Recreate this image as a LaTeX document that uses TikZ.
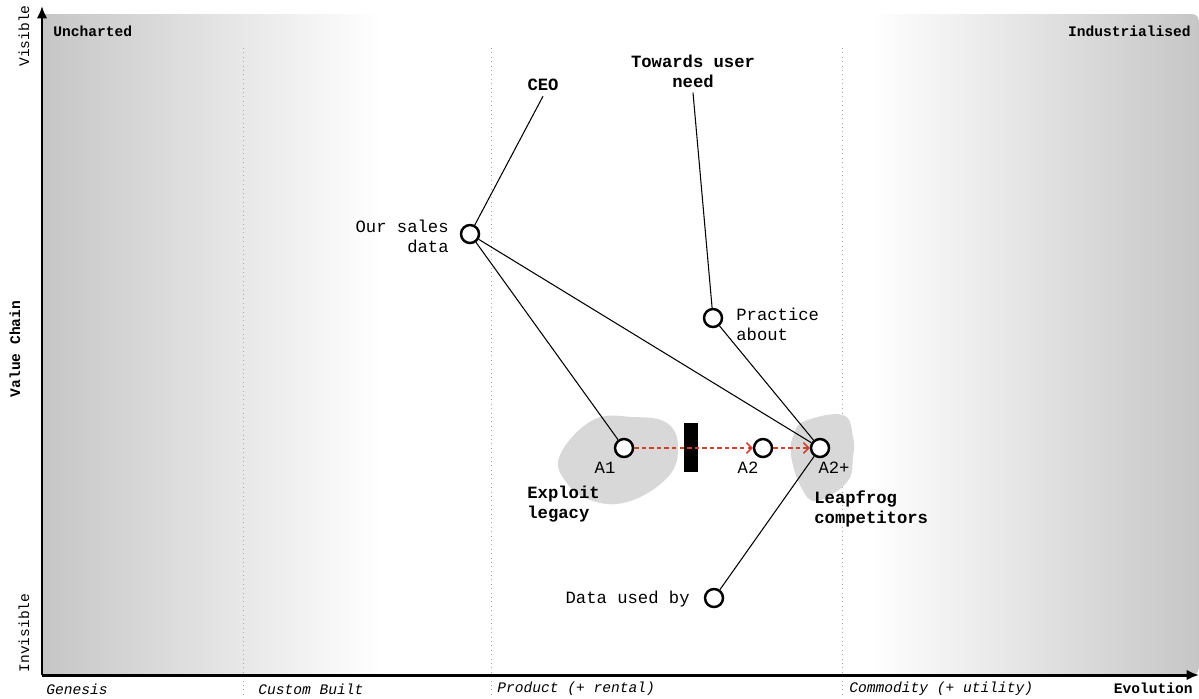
\documentclass[tikz,border=0pt]{standalone}
\usepackage{fontspec}
\setmainfont{Liberation Mono}
\usetikzlibrary{arrows.meta}

\begin{document}
\begin{tikzpicture}[x=0.02cm, y=-0.02cm,
    comp/.style={circle, draw=black, fill=white, line width=1.4pt, minimum size=0.36cm, inner sep=0pt},
    link/.style={black, line width=0.6pt},
    evolve/.style={evolveColour, line width=0.9pt, dash pattern=on 2.5pt off 1.8pt, -{Straight Barb[length=3pt,width=6pt]}},
    compText/.style={font=\fontsize{9.8pt}{11.4pt}\selectfont, inner sep=0pt},
    noteText/.style={font=\fontsize{9.8pt}{11.4pt}\selectfont\bfseries, inner sep=0pt, align=center},
    stageText/.style={font=\fontsize{8.3pt}{10pt}\selectfont\itshape, inner sep=0pt, anchor=west},
    axisText/.style={font=\fontsize{8.3pt}{10pt}\selectfont, inner sep=0pt}]
    % Define colours
    \definecolor{shadeColour}{HTML}{C6C6C6}
    \definecolor{blobColour}{HTML}{D8D8D8}
    \definecolor{evolveColour}{HTML}{D0402C}
    \definecolor{stageLine}{HTML}{A8A8A8}

    % Macros for the axes
    \def\axisX{42}    % x of the value chain axis
    \def\axisY{675}   % y of the evolution axis
    \def\mapTop{14}   % top of the map

  \useasboundingbox (0,0) rectangle (1199,698);

  % Shaded uncharted and industrialised zones
  \shade[left color=shadeColour, right color=white] (\axisX,\mapTop) rectangle (380,\axisY);
  \shade[left color=white, right color=shadeColour, rounded corners=4pt] (870,\mapTop) rectangle (1199,\axisY);

  % Stage separators
  \foreach \sx in {243,491,842}
      \draw[stageLine, dotted, line width=0.5pt] (\sx,48) -- (\sx,698);

  % Draw the axes
  \draw[line width=1.7pt, -{Latex[length=7pt,width=6pt]}] (\axisX,\axisY) -- (\axisX,6);
  \draw[line width=1.7pt, -{Latex[length=7pt,width=6pt]}] (\axisX,\axisY) -- (1199,\axisY);

  % Axis texts
  \node[axisText, rotate=90] (visible) at (24,36) {Visible};
  \node[axisText, rotate=90, font=\fontsize{8.3pt}{10pt}\selectfont\bfseries] (valueChain) at (15,349) {Value Chain};
  \node[axisText, rotate=90] (invisible) at (24,633) {Invisible};
  \node[axisText, font=\fontsize{8.3pt}{10pt}\selectfont\bfseries, anchor=east] (evolution) at (1193,688) {Evolution};
  \node[axisText, font=\fontsize{8.3pt}{10pt}\selectfont\bfseries, anchor=west] (uncharted) at (53,31) {Uncharted};
  \node[axisText, font=\fontsize{8.3pt}{10pt}\selectfont\bfseries, anchor=east] (industrialised) at (1191,31) {Industrialised};

  % Stage names
  \node[stageText] (genesis) at (46,689) {Genesis};
  \node[stageText] (custom) at (258,689) {Custom Built};
  \node[stageText] (product) at (497,689) {Product (+ rental)};
  \node[stageText] (commodity) at (849,689) {Commodity (+ utility)};

  % Pipeline blobs
  \fill[blobColour] plot[smooth cycle, tension=0.7] coordinates {(560,455) (593,420) (633,417) (667,423) (678,448) (667,478) (627,502) (590,500) (566,482)};
  \fill[blobColour] plot[smooth cycle, tension=0.7] coordinates {(805,421) (843,415) (853,437) (853,457) (847,482) (817,501) (801,487) (791,455) (794,434)};

  % Components
  \node[comp] (salesData) at (470,234) {};
  \node[comp] (practice) at (713,318) {};
  \node[comp] (aOne) at (624,448) {};
  \node[comp] (aTwo) at (763,448) {};
  \node[comp] (aTwoPlus) at (820,448) {};
  \node[comp] (dataUsed) at (714,598) {};

  % Component texts
  \node[compText, anchor=east, align=right] (salesDataText) at (449,236) {Our sales\\data};
  \node[compText, anchor=west, align=left] (practiceText) at (736,324) {Practice\\about};
  \node[compText, anchor=east] (dataUsedText) at (690,599) {Data used by};
  \node[compText] (aOneText) at (605,468) {A1};
  \node[compText] (aTwoText) at (748,468) {A2};
  \node[compText] (aTwoPlusText) at (834,468) {A2+};

  % Notes
  \node[noteText] (ceoNote) at (543,85) {CEO};
  \node[noteText] (userNeed) at (693,71) {Towards user\\need};
  \node[noteText, anchor=west, align=left] (exploitNote) at (527,504) {Exploit\\legacy};
  \node[noteText, anchor=west, align=left] (leapfrogNote) at (814,509) {Leapfrog\\competitors};

  % Inertia
  \fill[black] (684,423) rectangle (698,472);

  % Links
  \draw[link] ([yshift=-0.1cm]ceoNote.south) -- (salesData);
  \draw[link] ([yshift=-0.1cm]userNeed.south) -- (practice);
  \draw[link] (salesData) -- (aOne);
  \draw[link] (salesData) -- (aTwoPlus);
  \draw[link] (practice) -- (aTwoPlus);
  \draw[link] (aTwoPlus) -- (dataUsed);

  % Evolution arrows
  \draw[evolve] (aOne) -- (aTwo);
  \draw[evolve] (aTwo) -- (aTwoPlus);

\end{tikzpicture}
\end{document}
